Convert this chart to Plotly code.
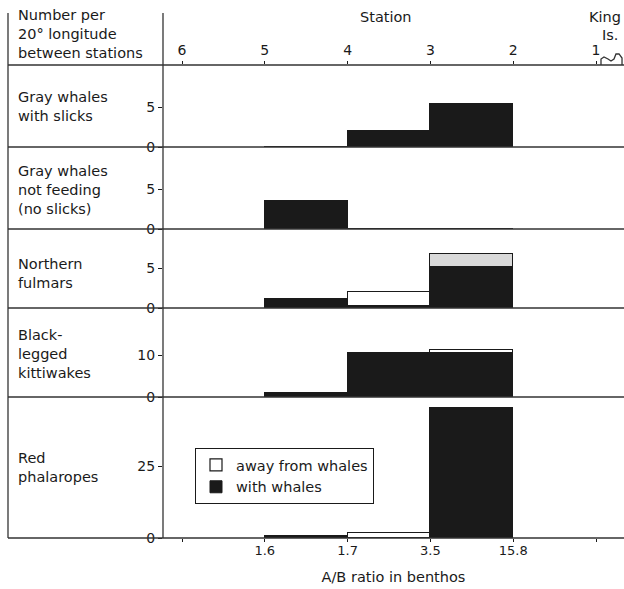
import plotly.graph_objects as go

# ---------------- data ----------------
stations = [6, 5, 4, 3, 2, 1]
station_labels = ["6", "5", "4", "3", "2", "1"]
ab_ratio_labels = ["", "1.6", "1.7", "3.5", "15.8", ""]
bin_start = [5, 4, 3]
bin_end = [4, 3, 2]

panel_names = [
    "Gray whales<br>with slicks",
    "Gray whales<br>not feeding<br>(no slicks)",
    "Northern<br>fulmars",
    "Black-<br>legged<br>kittiwakes",
    "Red<br>phalaropes",
]

gray_slicks_with = [0, 2.0, 5.4]
gray_slicks_away = [0, 0, 0]
gray_nofeed_with = [3.5, 0, 0]
gray_nofeed_away = [0, 0, 0]
fulmar_with = [1.1, 0.2, 5.1]
fulmar_away = [0, 1.8, 1.6]
kitti_with = [1.0, 10.5, 10.5]
kitti_away = [0, 0, 0.8]
phal_with = [0.7, 0, 45.5]
phal_away = [0, 1.7, 0]

y_ticks = [[0, 5], [0, 5], [0, 5], [0, 10], [0, 25]]

with_series = [gray_slicks_with, gray_nofeed_with, fulmar_with, kitti_with, phal_with]
away_series = [gray_slicks_away, gray_nofeed_away, fulmar_away, kitti_away, phal_away]

# ---------------- style / layout constants ----------------
W, H = 624, 589
ML, MR, MT, MB = 163, 0, 65, 51
PW, PH = W - ML - MR, H - MT - MB
FONT = "DejaVu Sans"
INK = "#1a1a1a"
TXT = 14.5
away_fill = [["white"] * 3, ["white"] * 3, ["white", "white", "#d9d9d9"],
             ["white"] * 3, ["white"] * 3]

def px2x(px):
    return (px - ML) / PW

def py2y(py):
    return (MT + PH - py) / PH

boundaries_px = [65, 147, 229, 308, 397, 538]
px_per_unit = [8.0, 8.0, 8.0, 4.2, 2.86]
x_range = [6 + (182 - ML) / 82.8, 1 - (W - 596) / 82.8]

centers = [(s + e) / 2 for s, e in zip(bin_start, bin_end)]

fig = go.Figure()
for i in range(5):
    xa = "x" if i == 0 else f"x{i+1}"
    ya = "y" if i == 0 else f"y{i+1}"
    fig.add_trace(go.Bar(
        x=centers, y=with_series[i], width=1, xaxis=xa, yaxis=ya,
        name="with whales", legendrank=2, showlegend=(i == 4),
        marker=dict(color=INK, line=dict(color=INK, width=1)),
    ))
    fig.add_trace(go.Bar(
        x=centers, y=away_series[i], width=1, xaxis=xa, yaxis=ya,
        name="away from whales", legendrank=1, showlegend=(i == 4),
        marker=dict(color=away_fill[i], line=dict(color=INK, width=1.2)),
    ))

layout = dict(
    width=W, height=H, margin=dict(l=ML, r=MR, t=MT, b=MB),
    paper_bgcolor="white", plot_bgcolor="white",
    barmode="stack", bargap=0,
    font=dict(family=FONT, size=14, color=INK),
    legend=dict(x=px2x(195), y=py2y(448), xanchor="left", yanchor="top",
                bgcolor="white", bordercolor=INK, borderwidth=1,
                traceorder="normal",
                font=dict(size=TXT), tracegroupgap=0, itemwidth=30),
)

for i in range(5):
    top_px = boundaries_px[i]
    bot_px = boundaries_px[i + 1]
    dom = [py2y(bot_px), py2y(top_px)]
    ymax = (bot_px - top_px) / px_per_unit[i]
    xkey = "xaxis" if i == 0 else f"xaxis{i+1}"
    ykey = "yaxis" if i == 0 else f"yaxis{i+1}"
    yanchor = "y" if i == 0 else f"y{i+1}"
    xanchor = "x" if i == 0 else f"x{i+1}"
    xa = dict(domain=[0, 1], anchor=yanchor, range=x_range, showgrid=False,
              zeroline=False, showline=False, fixedrange=True)
    if i == 0:
        xa.update(side="top", tickmode="array", tickvals=stations,
                  ticktext=station_labels, ticks="outside", ticklen=3,
                  tickcolor=INK, tickfont=dict(size=14), ticklabelstandoff=0)
    elif i == 4:
        xa.update(tickmode="array", tickvals=stations, ticktext=ab_ratio_labels,
                  ticks="outside", ticklen=3, tickcolor=INK,
                  tickfont=dict(size=13), ticklabelstandoff=-3,
                  title=dict(text="A/B ratio in benthos", font=dict(size=TXT),
                             standoff=15))
    else:
        xa.update(showticklabels=False, ticks="")
    if i > 0:
        xa["matches"] = "x"
    layout[xkey] = xa
    layout[ykey] = dict(domain=dom, anchor=xanchor, range=[0, ymax],
                        tickmode="array", tickvals=y_ticks[i], ticks="outside",
                        ticklen=4, tickcolor=INK, tickfont=dict(size=14),
                        showgrid=False, zeroline=False, showline=False,
                        fixedrange=True)

fig.update_layout(**layout)

# frame lines
shapes = []
for b in boundaries_px:
    shapes.append(dict(type="line", xref="paper", yref="paper",
                       x0=px2x(8), x1=1, y0=py2y(b), y1=py2y(b),
                       line=dict(color="#333", width=1.3)))
for vx in (8, 163):
    shapes.append(dict(type="line", xref="paper", yref="paper",
                       x0=px2x(vx), x1=px2x(vx), y0=py2y(13), y1=py2y(538),
                       line=dict(color="#333", width=1.3)))
# King Island outline
isl = [(601, 65), (601, 59), (604, 57), (608, 59), (611, 61), (614, 59),
       (616, 54), (619, 54), (622, 58), (622, 65)]
path = "M " + " L ".join(f"{px2x(a):.4f},{py2y(b):.4f}" for a, b in isl)
shapes.append(dict(type="path", xref="paper", yref="paper", path=path,
                   line=dict(color="#333", width=1.3)))
fig.update_layout(shapes=shapes)

# text annotations
label_centers_px = [106, 190, 273, 354, 467]
ann = []
for name, cy in zip(panel_names, label_centers_px):
    ann.append(dict(text=name, xref="paper", yref="paper", x=px2x(16),
                    y=py2y(cy), xanchor="left", yanchor="middle",
                    showarrow=False, align="left", font=dict(size=TXT)))
ann.append(dict(text="Number per<br>20° longitude<br>between stations",
                xref="paper", yref="paper", x=px2x(16), y=py2y(34),
                xanchor="left", yanchor="middle", showarrow=False,
                align="left", font=dict(size=TXT)))
ann.append(dict(text="Station", xref="paper", yref="paper", x=px2x(386),
                y=py2y(17), xanchor="center", yanchor="middle",
                showarrow=False, font=dict(size=TXT)))
ann.append(dict(text="King", xref="paper", yref="paper", x=px2x(605),
                y=py2y(17), xanchor="center", yanchor="middle",
                showarrow=False, font=dict(size=TXT)))
ann.append(dict(text="Is.", xref="paper", yref="paper", x=px2x(610),
                y=py2y(35), xanchor="center", yanchor="middle",
                showarrow=False, font=dict(size=TXT)))
fig.update_layout(annotations=ann)

fig.write_html("out.html", config={"displayModeBar": False},
               post_script="document.body.style.margin='0px';")
